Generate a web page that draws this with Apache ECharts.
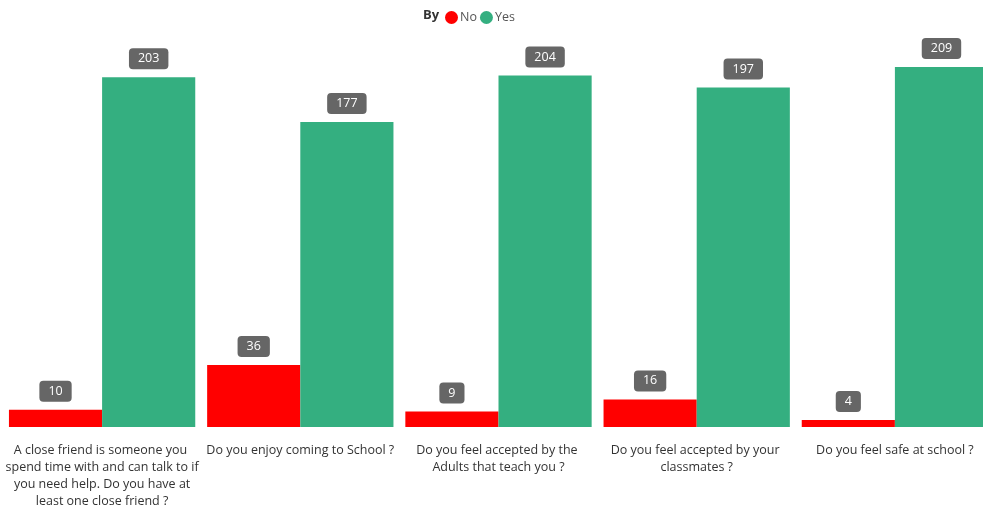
<!DOCTYPE html>
<html><head><meta charset="utf-8">
<script src="https://cdn.jsdelivr.net/npm/echarts@6/dist/echarts.min.js"></script>
<style>html,body{margin:0;padding:0;background:#fff}#c{width:983px;height:506px}</style>
</head><body><div id="c"></div>
<script>
const categories = [
  "A close friend is someone you spend time with and can talk to if you need help. Do you have at least one close friend ?",
  "Do you enjoy coming to School ?",
  "Do you feel accepted by the Adults that teach you ?",
  "Do you feel accepted by your classmates ?",
  "Do you feel safe at school ?"
];
const noValues = [10, 36, 9, 16, 4];
const yesValues = [203, 177, 204, 197, 209];

const chart = echarts.init(document.getElementById('c'));
const lbl = {
  show: true, position: 'top', distance: 8,
  color: '#fff', backgroundColor: '#666', borderRadius: 4,
  padding: [4, 9, 4, 9], fontSize: 12.5, fontFamily: 'Open Sans'
};
chart.setOption({
  animation: false,
  title: { text: 'By', left: 418, top: 4, textStyle: { fontSize: 13, fontWeight: 'bold', color: '#333', fontFamily: 'Open Sans' } },
  legend: {
    left: 440, top: 6, icon: 'circle', itemWidth: 13, itemHeight: 13, itemGap: 3,
    textStyle: { fontSize: 12.5, color: '#555', fontFamily: 'Open Sans', padding: [0, 0, 0, -3] },
    data: ['No', 'Yes']
  },
  grid: { left: 3, width: 991, top: 48, bottom: 79, containLabel: false, outerBoundsMode: 'none' },
  xAxis: {
    type: 'category', data: categories,
    axisLine: { show: false }, axisTick: { show: false },
    axisLabel: { interval: 0, width: 194, overflow: 'break', color: '#333', fontSize: 12.5, lineHeight: 17, margin: 15, fontFamily: 'Open Sans' }
  },
  yAxis: { type: 'value', min: 0, max: 220, show: false, splitLine: { show: false } },
  series: [
    { name: 'No', type: 'bar', data: noValues, itemStyle: { color: '#FF0000' }, barGap: '0%', barCategoryGap: '6%', label: lbl },
    { name: 'Yes', type: 'bar', data: yesValues, itemStyle: { color: '#34AF80' }, label: lbl }
  ]
});
</script></body></html>
